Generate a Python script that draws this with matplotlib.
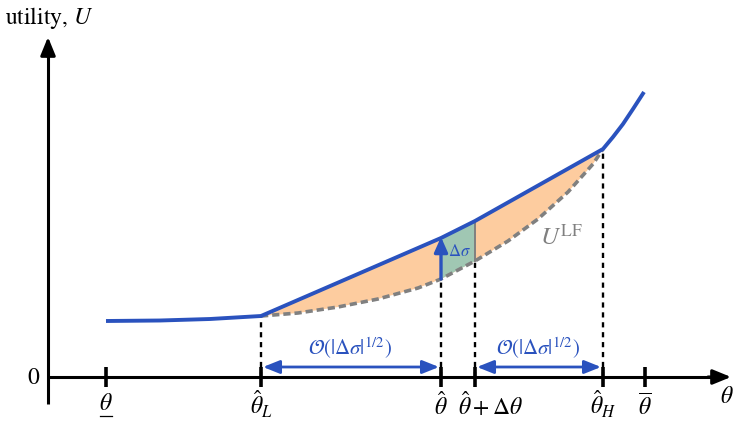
import matplotlib.pyplot as plt

plt.rcParams['mathtext.fontset'] = 'stix'
plt.rcParams['font.family'] = 'STIXGeneral'

# positions along theta axis
tick_theta = [58, 213, 393, 427, 555, 597]
tick_labels = [r'$\theta$', r'$\hat{\theta}_L$', r'$\hat{\theta}$',
               r'$\hat{\theta}+\Delta\theta$', r'$\hat{\theta}_H$', r'$\overline{\theta}$']

# utility with the perturbation (blue)
blue_theta = [58, 112, 162, 213, 393, 427, 555, 565, 575, 585, 596]
blue_U = [56, 56.5, 58, 61, 139, 156, 228, 240, 253, 268, 285]

# U^LF (grey dashed)
lf_theta = [213, 250, 290, 330, 370, 393, 427, 460, 490, 520, 545, 555]
lf_U = [61, 64, 70, 78, 89, 98, 116, 136, 158, 185, 213, 228]

BLUE = '#2a52be'
ORANGE = '#fdcc9f'
GREEN = '#a0c7b3'
GREY = '#808080'

fig = plt.figure(figsize=(7.42, 4.27), dpi=100)
ax = fig.add_axes([0, 0, 1, 1])
ax.set_xlim(-48, 694)
ax.set_ylim(-49, 378)
ax.axis('off')

# orange region between chord line and U^LF
i0 = blue_theta.index(213)
i1 = blue_theta.index(555)
poly_x = blue_theta[i0:i1 + 1] + lf_theta[::-1]
poly_y = blue_U[i0:i1 + 1] + lf_U[::-1]
ax.fill(poly_x, poly_y, color=ORANGE, lw=0, zorder=1)

# green region (Delta sigma)
j0 = lf_theta.index(393)
j1 = lf_theta.index(427)
g_x = [393, 427] + lf_theta[j0:j1 + 1][::-1]
g_y = [blue_U[blue_theta.index(393)], blue_U[blue_theta.index(427)]] + lf_U[j0:j1 + 1][::-1]
ax.fill(g_x, g_y, color=GREEN, lw=0, zorder=2)
ax.plot([427, 427], [lf_U[j1], blue_U[blue_theta.index(427)]], color=GREY, lw=1.4, zorder=3)

# dashed verticals
tops = [lf_U[0], lf_U[j0], lf_U[j1], lf_U[-1]]
for t, u in zip(tick_theta[1:5], tops):
    ax.plot([t, t], [0, u], color='black', lw=1.7, dashes=(2.2, 2.0), zorder=3)

ax.plot(lf_theta, lf_U, color=GREY, lw=2.6, dashes=(2, 1.1), zorder=4)
ax.plot(blue_theta, blue_U, color=BLUE, lw=2.8, solid_joinstyle='round',
        solid_capstyle='butt', zorder=5)

# Delta sigma arrow
ax.annotate('', xy=(393, 140), xytext=(393, 98),
            arrowprops=dict(arrowstyle='-|>,head_length=0.9,head_width=0.4',
                            color=BLUE, lw=2.4, shrinkA=0, shrinkB=0,
                            mutation_scale=10), zorder=6)
ax.text(411, 126, r'$\Delta\sigma$', color=BLUE, fontsize=12,
        ha='center', va='center', zorder=7)
ax.text(513, 140, r'$U^{\mathrm{LF}}$', color=GREY, fontsize=18,
        ha='center', va='center')

# width arrows
for a, b, c in [(215, 391, 302), (429, 553, 490)]:
    ax.annotate('', xy=(b, 10), xytext=(a, 10),
                arrowprops=dict(arrowstyle='<|-|>,head_length=1.0,head_width=0.4',
                                color=BLUE, lw=2.0, shrinkA=0, shrinkB=0,
                                mutation_scale=10))
    ax.text(c, 30, r'$\mathcal{O}(|\Delta\sigma|^{1/2})$', color=BLUE,
            fontsize=15, ha='center', va='center')

# axes
ax.plot([0, 0], [-27, 330], color='black', lw=2.2, solid_capstyle='butt')
ax.annotate('', xy=(0, 340), xytext=(0, 320),
            arrowprops=dict(arrowstyle='-|>,head_length=1.1,head_width=0.45',
                            color='black', lw=2.2, shrinkA=0, shrinkB=0,
                            mutation_scale=10))
ax.plot([0, 670], [0, 0], color='black', lw=2.2, solid_capstyle='butt')
ax.annotate('', xy=(683, 0), xytext=(660, 0),
            arrowprops=dict(arrowstyle='-|>,head_length=1.1,head_width=0.45',
                            color='black', lw=2.2, shrinkA=0, shrinkB=0,
                            mutation_scale=10))
ax.vlines(tick_theta, -10, 10, color='black', lw=2.6)

for k, (t, lab) in enumerate(zip(tick_theta, tick_labels)):
    if 'Delta' in lab:
        ax.text(t - 17, -37, lab, fontsize=17, ha='left', va='baseline')
    elif k == 0:
        # underlined theta (lower bound)
        ax.text(t, -32, lab, fontsize=17, ha='center', va='baseline')
        ax.plot([t - 6, t + 6], [-39, -39], color='black', lw=0.9)
    else:
        ax.text(t, -37, lab, fontsize=17, ha='center', va='baseline')

ax.text(-15, 0, '0', fontsize=17, ha='center', va='center')
ax.text(679, -19, r'$\theta$', fontsize=17, ha='center', va='center')
ax.text(-43, 360, r'utility, $U$', fontsize=17, ha='left', va='center')

fig.savefig('out.png', dpi=100)
